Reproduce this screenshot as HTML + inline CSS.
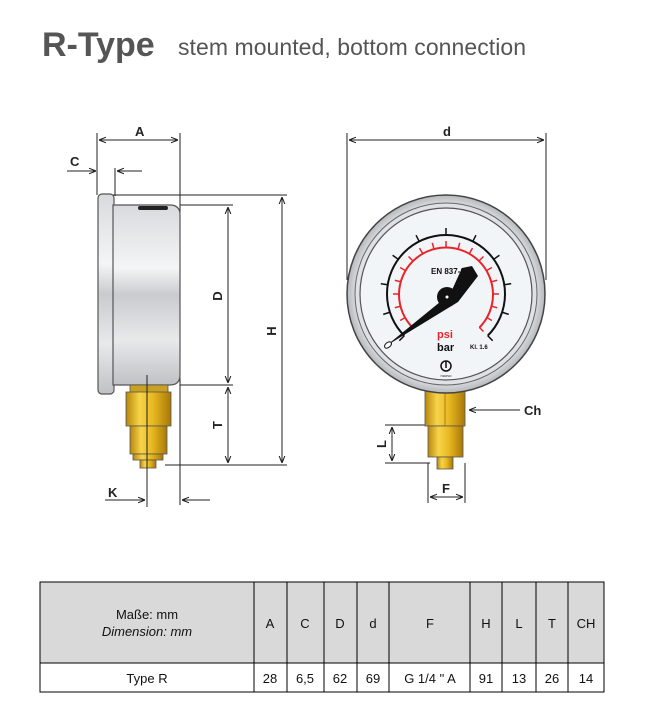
<!DOCTYPE html>
<html><head><meta charset="utf-8"><style>
body{margin:0;background:#fff;width:649px;height:715px;overflow:hidden;font-family:"Liberation Sans",sans-serif}
</style></head><body>
<svg width="649" height="715" viewBox="0 0 649 715" xmlns="http://www.w3.org/2000/svg" font-family="Liberation Sans, sans-serif">
<defs>
<linearGradient id="body" x1="0" y1="0" x2="0" y2="1">
<stop offset="0" stop-color="#d8dadd"/><stop offset="0.35" stop-color="#f4f5f6"/><stop offset="0.5" stop-color="#c9cbce"/><stop offset="0.75" stop-color="#e8e9eb"/><stop offset="1" stop-color="#bfc1c4"/></linearGradient>
<linearGradient id="brass" x1="0" y1="0" x2="1" y2="0">
<stop offset="0" stop-color="#b8860b"/><stop offset="0.3" stop-color="#f7d44a"/><stop offset="0.6" stop-color="#e8b820"/><stop offset="1" stop-color="#a87808"/></linearGradient>
<radialGradient id="ring" cx="0.5" cy="0.5" r="0.5"><stop offset="0.88" stop-color="#e6e8ea"/><stop offset="1" stop-color="#b5b8bc"/></radialGradient>
<marker id="ar" viewBox="0 0 10 10" refX="10" refY="5" markerWidth="7" markerHeight="7" orient="auto-start-reverse"><path d="M0,1 L10,5 L0,9" fill="none" stroke="#222" stroke-width="1.5"/></marker>
</defs>
<text x="42" y="56" font-size="34" font-weight="bold" fill="#555">R-Type</text>
<text x="178" y="55" font-size="23" fill="#555" textLength="348">stem mounted, bottom connection</text>

<g stroke="#222" stroke-width="1" fill="none">
<line x1="97" y1="133" x2="97" y2="195"/>
<line x1="180" y1="133" x2="180" y2="505"/>
<line x1="99" y1="140" x2="178" y2="140" marker-start="url(#ar)" marker-end="url(#ar)"/>
<line x1="67" y1="171" x2="96" y2="171" marker-end="url(#ar)"/>
<line x1="142" y1="171" x2="117" y2="171" marker-end="url(#ar)"/>
<line x1="115" y1="168" x2="115" y2="196"/>
<line x1="113" y1="195" x2="287" y2="195"/>
<line x1="165" y1="465" x2="287" y2="465"/>
<line x1="282" y1="197" x2="282" y2="463" marker-start="url(#ar)" marker-end="url(#ar)"/>
<line x1="180" y1="205" x2="233" y2="205"/>
<line x1="180" y1="385" x2="233" y2="385"/>
<line x1="228" y1="207" x2="228" y2="383" marker-start="url(#ar)" marker-end="url(#ar)"/>
<line x1="228" y1="387" x2="228" y2="463" marker-start="url(#ar)" marker-end="url(#ar)"/>
<line x1="105" y1="500" x2="145" y2="500" marker-end="url(#ar)"/>
<line x1="210" y1="500" x2="182" y2="500" marker-end="url(#ar)"/>
</g>
<rect x="98" y="194" width="16" height="200" rx="4" fill="url(#body)" stroke="#555" stroke-width="1.2"/>
<path d="M113,205 H170 Q180,205 180,215 V375 Q180,385 170,385 H113 Z" fill="url(#body)" stroke="#555" stroke-width="1.2"/>
<rect x="138" y="206" width="30" height="4" rx="2" fill="#222"/>
<rect x="130" y="385" width="38" height="8" fill="#c9a020" stroke="#555" stroke-width="0.8"/>
<rect x="126" y="392" width="45" height="34" fill="url(#brass)" stroke="#555" stroke-width="0.8"/>
<rect x="130" y="426" width="37" height="28" fill="url(#brass)" stroke="#555" stroke-width="0.8"/>
<rect x="133" y="454" width="30" height="6" fill="url(#brass)" stroke="#555" stroke-width="0.8"/>
<rect x="140" y="460" width="16" height="8" fill="url(#brass)" stroke="#555" stroke-width="0.8"/>
<line x1="147" y1="375" x2="147" y2="507" stroke="#222"/>
<g font-size="13" font-weight="bold" fill="#222">
<text x="135" y="136">A</text>
<text x="70" y="166">C</text>
<text x="108" y="497">K</text>
<text transform="translate(222,296) rotate(-90)" text-anchor="middle">D</text>
<text transform="translate(276,331) rotate(-90)" text-anchor="middle">H</text>
<text transform="translate(222,425) rotate(-90)" text-anchor="middle">T</text>
</g>

<g stroke="#222" stroke-width="1" fill="none">
<line x1="347" y1="133" x2="347" y2="280"/>
<line x1="546" y1="133" x2="546" y2="280"/>
<line x1="349" y1="140" x2="544" y2="140" marker-start="url(#ar)" marker-end="url(#ar)"/>
<line x1="520" y1="410" x2="469" y2="410" marker-end="url(#ar)"/>
<line x1="385" y1="425" x2="430" y2="425"/>
<line x1="385" y1="463" x2="430" y2="463"/>
<line x1="392" y1="427" x2="392" y2="461" marker-start="url(#ar)" marker-end="url(#ar)"/>
<line x1="428" y1="463" x2="428" y2="503"/>
<line x1="465" y1="463" x2="465" y2="503"/>
<line x1="430" y1="497" x2="463" y2="497" marker-start="url(#ar)" marker-end="url(#ar)"/>
</g>
<g font-size="13" font-weight="bold" fill="#222">
<text x="443" y="136">d</text>
<text x="524" y="415">Ch</text>
<text x="442" y="493">F</text>
<text transform="translate(386,444) rotate(-90)" text-anchor="middle">L</text>
</g>
<rect x="425" y="390" width="40" height="36" fill="url(#brass)" stroke="#555" stroke-width="0.8"/>
<line x1="445" y1="390" x2="445" y2="426" stroke="#9a7008" stroke-width="0.8"/>
<rect x="428" y="426" width="35" height="31" fill="url(#brass)" stroke="#555" stroke-width="0.8"/>
<rect x="437" y="457" width="16" height="12" fill="url(#brass)" stroke="#555" stroke-width="0.8"/>
<circle cx="446" cy="294" r="99" fill="url(#ring)" stroke="#444" stroke-width="1.5"/>
<circle cx="446" cy="294" r="91" fill="#dfe2e5" stroke="#666" stroke-width="1"/>
<circle cx="446" cy="294" r="86" fill="#f2f5f8" stroke="#555" stroke-width="1.2"/>
<g fill="none" stroke-linecap="butt">
<path d="M404.3,335.7 A59,59 0 1 1 487.7,335.7" stroke="#111" stroke-width="2"/>
<path d="M412.5,327.5 A47,47 0 1 1 479.5,327.5" stroke="#e8242a" stroke-width="2"/>
</g>
<g stroke="#111" stroke-width="1.5" id="bt"></g>
<g stroke="#e8242a" stroke-width="1.5" id="rt"></g>
<script>
(function(){var cx=446,cy=294,ns="http://www.w3.org/2000/svg";
function add(g,a,r1,r2){var t=a*Math.PI/180,l=document.createElementNS(ns,"line");
l.setAttribute("x1",cx+r1*Math.cos(t));l.setAttribute("y1",cy-r1*Math.sin(t));
l.setAttribute("x2",cx+r2*Math.cos(t));l.setAttribute("y2",cy-r2*Math.sin(t));g.appendChild(l);}
var b=document.getElementById("bt"),r=document.getElementById("rt");
for(var i=0;i<=10;i++)add(b,225-27*i,59,66);
for(var j=0;j<=18;j++)add(r,225-15*j,47,53);})();
</script>
<text x="431" y="274" font-size="8" font-weight="bold" fill="#111">EN 837-1</text>
<path d="M386,346 L440,302 L452,290 L462,268 L472,266 L478,276 L458,302 Z" fill="#111"/>
<circle cx="447" cy="297" r="10" fill="#111"/>
<circle cx="447" cy="297" r="1.5" fill="#fff"/>
<ellipse cx="388" cy="345" rx="4" ry="2.5" transform="rotate(-40 388 345)" fill="#fff" stroke="#111"/>
<text x="437" y="338" font-size="11" font-weight="bold" fill="#e8242a">psi</text>
<text x="437" y="351" font-size="11" font-weight="bold" fill="#111">bar</text>
<text x="470" y="349" font-size="6" font-weight="bold" fill="#111">Kl. 1.6</text>
<circle cx="446" cy="366" r="5" fill="none" stroke="#111" stroke-width="1.5"/>
<line x1="446" y1="361" x2="446" y2="368" stroke="#111" stroke-width="1.5"/>
<text x="446" y="377" font-size="4" text-anchor="middle" fill="#111">nuovo</text>

<rect x="40" y="582" width="564" height="81" fill="#d9d9d9"/>
<g stroke="#000" stroke-width="1" fill="none">
<rect x="40" y="582" width="564" height="110"/>
<line x1="40" y1="663" x2="604" y2="663"/>
<line x1="254" y1="582" x2="254" y2="692"/>
<line x1="287" y1="582" x2="287" y2="692"/>
<line x1="324" y1="582" x2="324" y2="692"/>
<line x1="357" y1="582" x2="357" y2="692"/>
<line x1="389" y1="582" x2="389" y2="692"/>
<line x1="470" y1="582" x2="470" y2="692"/>
<line x1="502" y1="582" x2="502" y2="692"/>
<line x1="536" y1="582" x2="536" y2="692"/>
<line x1="568" y1="582" x2="568" y2="692"/>
</g>
<g font-size="13" fill="#111" text-anchor="middle">
<text x="147" y="619">Maße: mm</text>
<text x="147" y="636" font-style="italic">Dimension: mm</text>
<g transform="translate(0,628)">
<text x="270">A</text><text x="305">C</text><text x="340">D</text><text x="373">d</text><text x="430">F</text><text x="486">H</text><text x="519">L</text><text x="552">T</text><text x="586">CH</text></g>
<g transform="translate(0,683)">
<text x="147">Type R</text><text x="270">28</text><text x="305">6,5</text><text x="340">62</text><text x="373">69</text><text x="430">G 1/4 " A</text><text x="486">91</text><text x="519">13</text><text x="552">26</text><text x="586">14</text></g>
</g>
</svg>
</body></html>
